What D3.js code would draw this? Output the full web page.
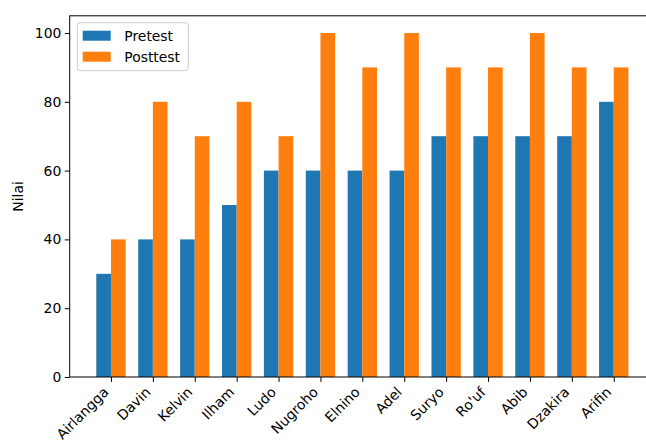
<!DOCTYPE html>
<html>
<head>
<meta charset="utf-8">
<script src="https://cdn.jsdelivr.net/npm/d3@7"></script>
<style>
  body { margin: 0; background: #fff; }
  text { font-family: "DejaVu Sans", sans-serif; fill: #000; }
</style>
</head>
<body>
<div class="chart"></div>
<script>
var names = ["Airlangga", "Davin", "Kelvin", "Ilham", "Ludo", "Nugroho", "Elnino", "Adel", "Suryo", "Ro'uf", "Abib", "Dzakira", "Arifin"];
var pretest = [30, 40, 40, 50, 60, 60, 60, 60, 70, 70, 70, 70, 80];
var posttest = [40, 80, 70, 80, 70, 100, 90, 100, 90, 90, 100, 90, 90];
var yTicks = [0, 20, 40, 60, 80, 100];
var seriesNames = ["Pretest", "Posttest"];
var colors = ["#1f77b4", "#ff7f0e"];

var W = 646, H = 441;
var fs = 13.9;
var barW = 0.35;
// axes box (right edge falls outside the picture, like the cropped original)
var ax = {left: 69.7, right: 655, top: 15.8, bottom: 377};

var svg = d3.select(".chart").append("svg")
    .attr("width", W)
    .attr("height", H);

var x = d3.scaleLinear()
    .domain([-0.985, names.length - 1 + 0.985])
    .range([ax.left, ax.right]);

var y = d3.scaleLinear()
    .domain([0, 105])
    .range([ax.bottom, ax.top]);

// bars
var groups = [pretest, posttest];
groups.forEach((vals, s) => {
    svg.append("g")
        .attr("fill", colors[s])
        .selectAll("rect")
        .data(vals)
        .join("rect")
        .attr("x", (d, i) => x(i + (s === 0 ? -barW : 0)))
        .attr("width", x(barW) - x(0))
        .attr("y", d => y(d))
        .attr("height", d => y(0) - y(d));
});

// y axis
var yAxis = svg.append("g")
    .attr("transform", "translate(" + ax.left + ",0)")
    .call(d3.axisLeft(y).tickValues(yTicks).tickSize(4.9).tickPadding(3.5));
yAxis.select(".domain").remove();
yAxis.selectAll("line").attr("stroke", "#000").attr("stroke-width", 1);
yAxis.selectAll("text").style("font-size", fs + "px").attr("font-family", null);

// x axis
var xAxis = svg.append("g")
    .attr("transform", "translate(0," + ax.bottom + ")")
    .call(d3.axisBottom(x).tickValues(d3.range(names.length)).tickFormat(i => names[i]).tickSize(4.9));
xAxis.select(".domain").remove();
xAxis.selectAll("line").attr("stroke", "#000").attr("stroke-width", 1);
xAxis.selectAll("text")
    .style("font-size", fs + "px")
    .attr("font-family", null)
    .attr("text-anchor", "end")
    .attr("dy", null)
    .attr("x", -2)
    .attr("y", 16)
    .attr("transform", "rotate(-45,-2,16)");

// spines
svg.append("rect")
    .attr("x", ax.left)
    .attr("y", ax.top)
    .attr("width", ax.right - ax.left)
    .attr("height", ax.bottom - ax.top)
    .attr("fill", "none")
    .attr("stroke", "#000")
    .attr("stroke-width", 1);

// y label
svg.append("text")
    .attr("transform", "translate(23," + ((ax.top + ax.bottom) / 2) + ") rotate(-90)")
    .attr("text-anchor", "middle")
    .style("font-size", fs + "px")
    .text("Nilai");

// legend
var legend = svg.append("g");
legend.append("rect")
    .attr("x", 77.3)
    .attr("y", 22.7)
    .attr("width", 111)
    .attr("height", 48)
    .attr("rx", 3)
    .attr("fill", "#fff")
    .attr("fill-opacity", 0.8)
    .attr("stroke", "#ccc")
    .attr("stroke-width", 1);
seriesNames.forEach((n, i) => {
    legend.append("rect")
        .attr("x", 82.7)
        .attr("y", 30.7 + i * 21)
        .attr("width", 28)
        .attr("height", 10)
        .attr("fill", colors[i]);
    legend.append("text")
        .attr("x", 124.3)
        .attr("y", 35.7 + i * 21)
        .attr("dy", "0.36em")
        .style("font-size", fs + "px")
        .text(n);
});
</script>
</body>
</html>
